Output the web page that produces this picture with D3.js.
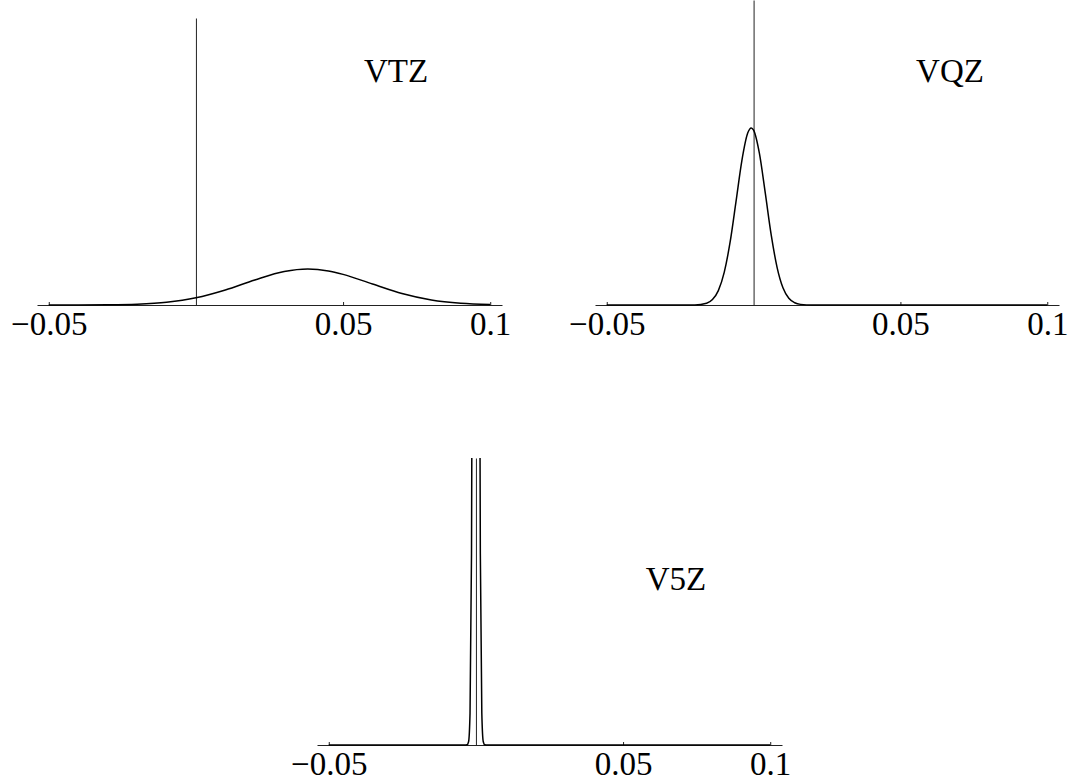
<!DOCTYPE html>
<html lang="en">
  <head>
    <meta charset="UTF-8" />
    <title>VTZ / VQZ / V5Z distributions</title>
    <script src="https://d3js.org/d3.v7.min.js"></script>
    <style>
      body {
        margin: 0;
        background: #fff;
      }
      svg {
        display: block;
      }
      .curve {
        fill: none;
        stroke: #000;
        stroke-width: 1.5px;
      }
      .axis path,
      .axis line {
        stroke: #222;
        stroke-width: 1px;
      }
      .axis text {
        font-family: "Liberation Serif", "Times New Roman", serif;
        font-size: 33px;
        fill: #000;
      }
      .panel-label {
        font-family: "Liberation Serif", "Times New Roman", serif;
        font-size: 33px;
        fill: #000;
      }
    </style>
  </head>
  <body>
    <svg id="chart"></svg>

    <script>
      const width = 1070;
      const height = 780;

      // shared x axis
      const xDomain = [-0.054, 0.104];
      const tickValues = [-0.05, 0.05, 0.1];
      const tickLabels = ["\u22120.05", "0.05", "0.1"];

      // VTZ curve
      const vtzX = [-0.05, -0.04, -0.03, -0.02, -0.01, 0, 0.01, 0.02, 0.03, 0.038,
        0.045, 0.05, 0.06, 0.07, 0.08, 0.09, 0.1];
      const vtzY = [0.0, 0.02, 0.11, 0.45, 1.45, 3.77, 7.86, 13.1, 17.5, 18.8,
        17.8, 16.0, 11.0, 6.02, 2.64, 0.93, 0.26];

      // VQZ curve
      const vqzX = [-0.05, -0.03, -0.02, -0.016, -0.014, -0.012, -0.01, -0.008, -0.006,
        -0.004, -0.002, -0.0008, 0, 0.002, 0.004, 0.006, 0.008, 0.01, 0.012, 0.014,
        0.016, 0.02, 0.03, 0.1];
      const vqzY = [0, 0, 0.05, 0.79, 2.45, 6.49, 14.7, 28.3, 46.5,
        65.0, 77.5, 79.8, 78.8, 68.2, 50.3, 31.6, 17.0, 7.74, 3.01, 1.0,
        0.28, 0, 0, 0];

      // V5Z curve (peak runs off the top of its plot range)
      const v5zX = [-0.05, -0.01, -0.004, -0.003, -0.0025, -0.002, -0.0015, -0.001,
        -0.0005, 0, 0.0005, 0.001, 0.0015, 0.002, 0.0025, 0.003, 0.004, 0.01, 0.1];
      const v5zY = [0, 0, 0, 0.06, 0.96, 9.6, 57.4, 205,
        442, 570, 442, 205, 57.4, 9.6, 0.96, 0.06, 0, 0, 0];

      const panelNames = ["VTZ", "VQZ", "V5Z"];
      const yMaxes = [150, 137.5, 86];

      const svg = d3.select("#chart").attr("width", width).attr("height", height);

      // layout of the three panels (pixels)
      const panels = [
        { left: 37, right: 502, top: 18, bottom: 305, labelX: 396, labelY: 82,
          xs: vtzX, ys: vtzY },
        { left: 595, right: 1059, top: 0, bottom: 305, labelX: 950, labelY: 82,
          xs: vqzX, ys: vqzY },
        { left: 317, right: 782, top: 458, bottom: 745, labelX: 676, labelY: 590,
          xs: v5zX, ys: v5zY },
      ];

      panels.forEach((p, i) => {
        const x = d3.scaleLinear().domain(xDomain).range([p.left, p.right]);
        const y = d3.scaleLinear().domain([0, yMaxes[i]]).range([p.bottom, p.top]);

        const g = svg.append("g");

        const clipId = "clip" + i;
        g.append("clipPath")
          .attr("id", clipId)
          .append("rect")
          .attr("x", p.left)
          .attr("y", p.top)
          .attr("width", p.right - p.left)
          .attr("height", p.bottom - p.top + 1);

        // x axis with inward ticks
        const xAxis = g
          .append("g")
          .attr("class", "axis")
          .attr("transform", `translate(0, ${p.bottom})`)
          .call(
            d3
              .axisBottom(x)
              .tickValues(tickValues)
              .tickFormat((d, k) => tickLabels[k])
              .tickSizeInner(-3)
              .tickSizeOuter(0)
              .tickPadding(7)
          );
        xAxis.selectAll("text").attr("dy", "0.71em");

        // y axis at x = 0, no ticks
        g.append("g")
          .attr("class", "axis")
          .attr("transform", `translate(${x(0)}, 0)`)
          .call(d3.axisLeft(y).tickValues([]).tickSizeOuter(0));

        const line = d3
          .line()
          .x((d) => x(d[0]))
          .y((d) => y(d[1]))
          .curve(d3.curveMonotoneX);

        g.append("path")
          .attr("class", "curve")
          .attr("clip-path", `url(#${clipId})`)
          .datum(d3.zip(p.xs, p.ys))
          .attr("d", line);

        g.append("text")
          .attr("class", "panel-label")
          .attr("x", p.labelX)
          .attr("y", p.labelY)
          .attr("text-anchor", "middle")
          .text(panelNames[i]);
      });
    </script>
  </body>
</html>
